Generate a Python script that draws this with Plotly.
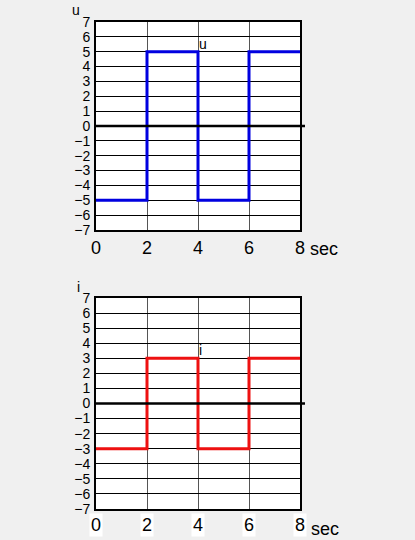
import plotly.graph_objects as go

t = [0, 2, 4, 6, 8]
u_vals = [-5, 5, -5, 5, 5]
i_vals = [-3, 3, -3, 3, 3]
y_ticks = list(range(-7, 8))
x_ticks = [0, 2, 4, 6, 8]

W, H = 415, 540
BG = "#f0f0f0"

fig = go.Figure()
fig.add_trace(go.Scatter(x=t, y=u_vals, mode="lines", line=dict(color="#0000e0", width=3, shape="hv"),
                         xaxis="x", yaxis="y", showlegend=False, hoverinfo="skip"))
fig.add_trace(go.Scatter(x=t, y=i_vals, mode="lines", line=dict(color="#ee1111", width=3, shape="hv"),
                         xaxis="x2", yaxis="y2", showlegend=False, hoverinfo="skip"))

x0p, x1p = 96 / W, 300 / W
top_dom = [(H - 230) / H, (H - 22) / H]
bot_dom = [(H - 509) / H, (H - 298) / H]

font_small = dict(family="Liberation Sans, Arial", size=14, color="black")
font_big = dict(family="Liberation Sans, Arial", size=18, color="black")

xcommon = dict(range=[0, 8], tickvals=x_ticks, showgrid=True, gridcolor="#555555", gridwidth=1,
               showline=True, linecolor="black", linewidth=2, mirror=True, zeroline=False,
               tickfont=font_big, automargin=False,
               ticks="", ticklabelstandoff=0, domain=[x0p, x1p], fixedrange=True)
ycommon = dict(range=[-7, 7], tickvals=y_ticks, showgrid=True, gridcolor="black", gridwidth=1,
               showline=True, linecolor="black", linewidth=2, mirror=True, zeroline=False,
               tickfont=dict(family="Liberation Sans, Arial", size=14, color="black"), automargin=False,
               ticks="", ticklabelstandoff=1, fixedrange=True)

fig.update_layout(
    width=W, height=H, margin=dict(l=0, r=0, t=0, b=0, autoexpand=False),
    paper_bgcolor=BG, plot_bgcolor="white",
    xaxis=dict(**xcommon, anchor="y"),
    yaxis=dict(**ycommon, domain=top_dom, anchor="x"),
    xaxis2=dict(**xcommon, anchor="y2", showticklabels=False),
    yaxis2=dict(**ycommon, domain=bot_dom, anchor="x2"),
)

# zero lines extending past right edge
for yref in ["y", "y2"]:
    fig.add_shape(type="line", xref="paper", yref=yref, x0=x0p, x1=305 / W, y0=0, y1=0,
                  line=dict(color="black", width=2.5))

# bottom x tick labels on white boxes
for xv in x_ticks:
    fig.add_annotation(x=xv, xref="x2", y=(H - 525) / H, yref="paper", text=str(xv), showarrow=False,
                       xanchor="center", yanchor="middle", bgcolor="white", borderpad=1, font=font_big)

fig.add_annotation(xref="paper", yref="paper", showarrow=False, xanchor="center", yanchor="top",
                   text="u", x=76 / W, y=1.0, font=font_small)
ann = [
    dict(text="i", x=78 / W, y=(H - 287) / H, font=font_small),
    dict(text="sec", x=324 / W, y=(H - 249) / H, font=font_big),
    dict(text="sec", x=325 / W, y=(H - 529) / H, font=font_big),
]
for a in ann:
    fig.add_annotation(xref="paper", yref="paper", showarrow=False, xanchor="center", yanchor="middle", **a)

fig.add_annotation(x=4, y=5, xref="x", yref="y", text="u", showarrow=False, xanchor="left", yanchor="bottom",
                   xshift=-1, yshift=-2, font=font_small)
fig.add_annotation(x=4, y=3, xref="x2", yref="y2", text="i", showarrow=False, xanchor="left", yanchor="bottom",
                   xshift=-1, yshift=-2, font=font_small)

fig.write_html("out.html")
